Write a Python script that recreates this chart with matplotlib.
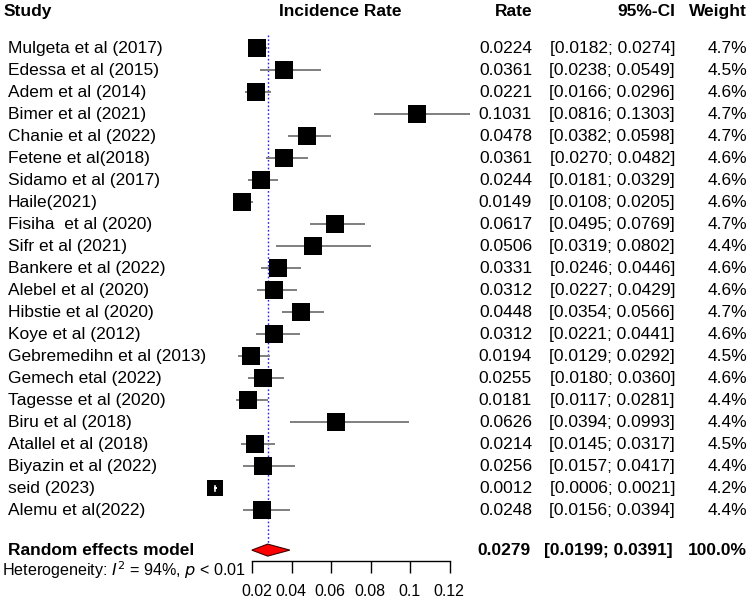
import matplotlib
matplotlib.use("Agg")
import matplotlib.pyplot as plt
from matplotlib.patches import Polygon
import matplotlib.transforms as mtransforms

plt.rcParams['font.family'] = ['Liberation Sans', 'DejaVu Sans']

studies = ["Mulgeta et al (2017)", "Edessa et al (2015)", "Adem et al (2014)", "Bimer et al (2021)",
           "Chanie et al (2022)", "Fetene et al(2018)", "Sidamo et al (2017)", "Haile(2021)",
           "Fisiha  et al (2020)", "Sifr et al (2021)", "Bankere et al (2022)", "Alebel et al (2020)",
           "Hibstie et al (2020)", "Koye et al (2012)", "Gebremedihn et al (2013)", "Gemech etal (2022)",
           "Tagesse et al (2020)", "Biru et al (2018)", "Atallel et al (2018)", "Biyazin et al (2022)",
           "seid (2023)", "Alemu et al(2022)"]
rates = [0.0224, 0.0361, 0.0221, 0.1031, 0.0478, 0.0361, 0.0244, 0.0149, 0.0617, 0.0506, 0.0331,
         0.0312, 0.0448, 0.0312, 0.0194, 0.0255, 0.0181, 0.0626, 0.0214, 0.0256, 0.0012, 0.0248]
lower = [0.0182, 0.0238, 0.0166, 0.0816, 0.0382, 0.0270, 0.0181, 0.0108, 0.0495, 0.0319, 0.0246,
         0.0227, 0.0354, 0.0221, 0.0129, 0.0180, 0.0117, 0.0394, 0.0145, 0.0157, 0.0006, 0.0156]
upper = [0.0274, 0.0549, 0.0296, 0.1303, 0.0598, 0.0482, 0.0329, 0.0205, 0.0769, 0.0802, 0.0446,
         0.0429, 0.0566, 0.0441, 0.0292, 0.0360, 0.0281, 0.0993, 0.0317, 0.0417, 0.0021, 0.0394]
weights = [4.7, 4.5, 4.6, 4.7, 4.7, 4.6, 4.6, 4.6, 4.7, 4.4, 4.6, 4.6, 4.7, 4.6, 4.5, 4.6, 4.4, 4.4,
           4.5, 4.4, 4.2, 4.4]
pooled_label = "Random effects model"
pooled = 0.0279
pooled_lo = 0.0199
pooled_hi = 0.0391
pooled_w = 100.0
xticks = [0.02, 0.04, 0.06, 0.08, 0.1, 0.12]
xtick_labels = ["0.02", "0.04", "0.06", "0.08", "0.1", "0.12"]

W, H = 750, 602
fig = plt.figure(figsize=(W / 100, H / 100), dpi=100)

# row layout (row units)
y0_px, dy_px = 48.5, 22.0
ylim = ((H - y0_px) / dy_px, -y0_px / dy_px)
r_pool = 22.8
r_axis = 23.3
r_het = 23.7
r_head = -1.7

# text axes in pixel x
ax = fig.add_axes([0, 0, 1, 1])
ax.set_xlim(0, W)
ax.set_ylim(*ylim)
ax.axis('off')

fs = 12.5
ax.text(4, r_head, "Study", ha='left', va='center', fontsize=fs, fontweight='bold')
ax.text(340, r_head, "Incidence Rate", ha='center', va='center', fontsize=fs, fontweight='bold')
ax.text(533, r_head, "Rate", ha='right', va='center', fontsize=fs, fontweight='bold')
ax.text(675, r_head, "95%-CI", ha='right', va='center', fontsize=fs, fontweight='bold')
ax.text(747, r_head, "Weight", ha='right', va='center', fontsize=fs, fontweight='bold')

for i, (s, r, lo, hi, w) in enumerate(zip(studies, rates, lower, upper, weights)):
    ax.text(8, i, s, ha='left', va='center', fontsize=fs)
    ax.text(532, i, f"{r:.4f}", ha='right', va='center', fontsize=fs)
    ax.text(675, i, f"[{lo:.4f}; {hi:.4f}]", ha='right', va='center', fontsize=fs)
    ax.text(747, i, f"{w:.1f}%", ha='right', va='center', fontsize=fs)

ax.text(8, r_pool, pooled_label, ha='left', va='center', fontsize=fs, fontweight='bold')
ax.text(531, r_pool, f"{pooled:.4f}", ha='right', va='center', fontsize=fs, fontweight='bold')
ax.text(673, r_pool, f"[{pooled_lo:.4f}; {pooled_hi:.4f}]", ha='right', va='center', fontsize=fs, fontweight='bold')
ax.text(747, r_pool, f"{pooled_w:.1f}%", ha='right', va='center', fontsize=fs, fontweight='bold')
ax.text(2, r_het, r"Heterogeneity: $I^2$ = 94%, $p$ < 0.01", ha='left', va='center', fontsize=11.6,
        math_fontfamily='dejavusans')

# forest axes: x in rate units
xmin, xmax = -0.01, 0.135
px0 = 252 + (xmin - 0.02) * 1980.0
px1 = 252 + (xmax - 0.02) * 1980.0
fx = fig.add_axes([px0 / W, 0, (px1 - px0) / W, 1])
fx.set_xlim(xmin, xmax)
fx.set_ylim(*ylim)
fx.patch.set_alpha(0)
for sp in ['top', 'left', 'right']:
    fx.spines[sp].set_visible(False)
fx.spines['bottom'].set_position(('data', r_axis))
fx.spines['bottom'].set_bounds(xticks[0], xticks[-1])
fx.spines['bottom'].set_linewidth(1.0)
fx.set_yticks([])
fx.set_xticks(xticks)
fx.set_xticklabels(xtick_labels, fontsize=11.4)
fx.tick_params(axis='x', direction='out', length=8.3, width=1.0, pad=8)
lbl0 = fx.get_xticklabels()[0]
lbl0.set_transform(lbl0.get_transform() + mtransforms.ScaledTranslation(5 / 100, 0, fig.dpi_scale_trans))
for lb in fx.get_xticklabels()[1:]:
    lb.set_transform(lb.get_transform() + mtransforms.ScaledTranslation(-1 / 100, 0, fig.dpi_scale_trans))

# reference line at pooled estimate
fx.plot([pooled, pooled], [-0.62, r_pool - 0.27], color='#2020ff', lw=1.0, ls=(0, (1.2, 1.6)), zorder=1)

for i, (r, lo, hi, w) in enumerate(zip(rates, lower, upper, weights)):
    side_px = 18.5 * w / 4.7
    inside = (hi - lo) * 1980 < side_px * 0.5
    fx.plot([lo, hi], [i, i], color='white' if inside else '#7f7f7f', lw=1.4, zorder=3 if inside else 2,
            solid_capstyle='butt')
    fx.scatter([r], [i], marker='s', s=(side_px * 0.72) ** 2, color='black', linewidths=0, zorder=2.5)
    if inside:
        fx.plot([r, r], [i - 2.5 / dy_px, i + 2.5 / dy_px], color='white', lw=1.2, zorder=3)

h = 6.0 / dy_px
fx.add_patch(Polygon([[pooled_lo, r_pool], [pooled, r_pool - h], [pooled_hi, r_pool], [pooled, r_pool + h]],
                     closed=True, facecolor='red', edgecolor='#400000', lw=0.8, zorder=3))

fig.savefig("out.png", dpi=100)
